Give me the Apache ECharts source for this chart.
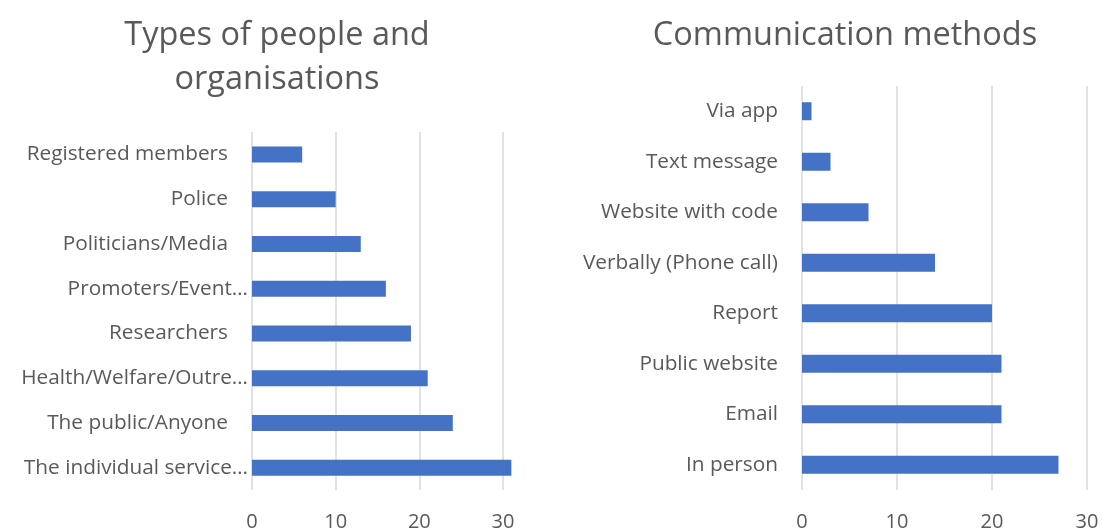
<!DOCTYPE html>
<html><head><meta charset="utf-8">
<script src="https://cdn.jsdelivr.net/npm/echarts@6/dist/echarts.min.js"></script>
<style>html,body{margin:0;padding:0;background:#fff}#c{width:1102px;height:532px}</style>
</head><body><div id="c"></div>
<script>
const leftTitle = 'Types of people and\norganisations';
const leftCategories = ['Registered members','Police','Politicians/Media','Promoters/Event…','Researchers','Health/Welfare/Outre…','The public/Anyone','The individual service…'];
const leftValues = [6,10,13,16,19,21,24,31];
const rightTitle = 'Communication methods';
const rightCategories = ['Via app','Text message','Website with code','Verbally (Phone call)','Report','Public website','Email','In person'];
const rightValues = [1,3,7,14,20,21,21,27];
const xTicks = [0,10,20,30];

const FONT = 'Open Sans';
const grey = '#595959';
const chart = echarts.init(document.getElementById('c'), null, {renderer:'canvas'});
function catLabel(v){ return v.endsWith('…') ? v : v + '{s|}'; }
function yAxis(idx, cats){
  return {type:'category', gridIndex:idx, inverse:true, data:cats,
    axisLine:{show:false}, axisTick:{show:false},
    axisLabel:{color:grey, fontFamily:FONT, fontSize:20.8, margin:4, formatter:catLabel,
      rich:{s:{width:20}}}};
}
function xAxis(idx){
  return {type:'value', gridIndex:idx, min:xTicks[0], max:xTicks[xTicks.length-1], interval:10,
    axisLine:{show:false}, axisTick:{show:false},
    axisLabel:{color:grey, fontFamily:FONT, fontSize:20, margin:22},
    splitLine:{show:true, showMinLine:true, showMaxLine:true, lineStyle:{color:'#d9d9d9', width:1.5}}};
}
chart.setOption({
  animation:false,
  title:[
    {text:leftTitle, left:272, top:8, textAlign:'center', textStyle:{color:grey, fontFamily:FONT, fontSize:32.5, fontWeight:'normal', lineHeight:44.5}},
    {text:rightTitle, left:840, top:8, textAlign:'center', textStyle:{color:grey, fontFamily:FONT, fontSize:32.5, fontWeight:'normal', lineHeight:44.5}}
  ],
  grid:[
    {left:252, top:132, width:251, height:360},
    {left:802, top:86, width:285, height:406}
  ],
  xAxis:[xAxis(0), xAxis(1)],
  yAxis:[yAxis(0,leftCategories), yAxis(1,rightCategories)],
  series:[
    {type:'bar', xAxisIndex:0, yAxisIndex:0, data:leftValues, barWidth:16, clip:false, itemStyle:{color:'#4472C4'}},
    {type:'bar', xAxisIndex:1, yAxisIndex:1, data:rightValues, barWidth:18, clip:false, itemStyle:{color:'#4472C4'}}
  ]
});
</script></body></html>
